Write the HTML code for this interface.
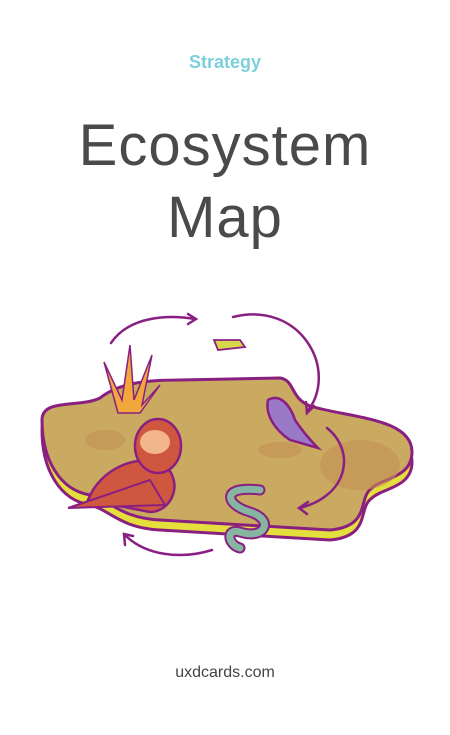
<!DOCTYPE html>
<html><head><meta charset="utf-8"><style>
html,body{margin:0;padding:0;background:#fff;}
body{width:450px;height:735px;position:relative;overflow:hidden;font-family:"Liberation Sans",sans-serif;}
.t{position:absolute;left:0;width:450px;text-align:center;}
</style></head><body>
<div class="t" style="top:52px;font-size:18px;font-weight:bold;color:#7dcfdc;">Strategy</div>
<div class="t" style="top:110px;font-size:58px;color:#4a4a4a;line-height:72px;letter-spacing:1px;">Ecosystem<br>Map</div>
<svg style="position:absolute;left:0;top:0" width="450" height="735">
<g stroke="#8a1f82" stroke-width="3" stroke-linejoin="round">
<path d="M42,430 C42,408 80,418 100,408 C120,392 150,390 180,390 L280,388 C295,390 290,408 310,416 C350,428 412,428 412,462 C412,488 382,488 372,498 C357,508 372,536 330,540 L160,530 C120,528 110,510 90,505 C60,500 42,470 42,430 Z" fill="#e4df3c"/>
<path d="M42,420 C42,398 80,408 100,398 C120,382 150,380 180,380 L280,378 C295,380 290,398 310,406 C350,418 412,418 412,452 C412,478 382,478 372,488 C357,498 372,526 330,530 L160,520 C120,518 110,500 90,495 C60,490 42,460 42,420 Z" fill="#c9aa60"/>
</g>
<ellipse cx="360" cy="465" rx="40" ry="25" fill="#c48f55" opacity=".6"/>
<ellipse cx="105" cy="440" rx="20" ry="10" fill="#c48f55" opacity=".6"/>
<ellipse cx="280" cy="450" rx="22" ry="8" fill="#c48f55" opacity=".6"/>
<g fill="none" stroke="#8a1f82" stroke-width="2.5" stroke-linecap="round">
<path d="M111,343 C130,315 170,315 195,319"/><path d="M188,314 L196,319 L188,324"/>
<path d="M233,317 C300,300 340,370 307,412"/><path d="M306,402 L307,413 L314,406"/>
<path d="M327,428 C355,450 350,495 300,508"/><path d="M308,502 L299,508 L307,514"/>
<path d="M212,550 C180,560 145,555 125,535"/><path d="M125,545 L124,534 L133,536"/>
</g>
<g stroke="#8a1f82" stroke-width="1.5" fill="#f2a73a"><path d="M118,413 L104,362 L122,400 L130,345 L134,400 L152,355 L142,405 L160,385 L140,413 Z"/></g>
<path d="M88,500 C100,468 140,452 165,465 C185,485 170,512 150,512 Z" fill="#d0573f" stroke="#8a1f82" stroke-width="2.5"/>
<path d="M68,508 L150,480 L165,505 Z" fill="#d0573f" stroke="#8a1f82" stroke-width="2"/>
<ellipse cx="158" cy="446" rx="23" ry="27" fill="#d0573f" stroke="#8a1f82" stroke-width="2.5"/>
<ellipse cx="155" cy="442" rx="15" ry="12" fill="#f3b58a"/>
<path d="M268,400 C280,393 290,405 295,420 C305,435 315,445 318,448 L290,440 C275,430 265,415 268,400 Z" fill="#9a7ac8" stroke="#8a1f82" stroke-width="2.5"/>
<path d="M214,340 L240,340 L245,347 L218,350 Z" fill="#d8d84a" stroke="#8a1f82" stroke-width="1.8"/>
<path d="M260,490 C220,485 225,505 250,512 C275,520 265,540 240,532 C225,528 228,545 240,548" fill="none" stroke="#8a1f82" stroke-width="11" stroke-linecap="round"/>
<path d="M260,490 C220,485 225,505 250,512 C275,520 265,540 240,532 C225,528 228,545 240,548" fill="none" stroke="#86b5a2" stroke-width="7" stroke-linecap="round"/>
</svg>
<div class="t" style="top:664px;font-size:16px;color:#444;">uxdcards.com</div>
</body></html>
